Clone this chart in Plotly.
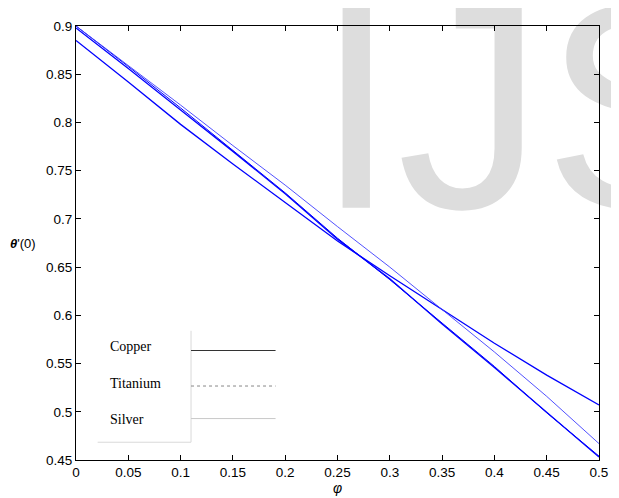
import plotly.graph_objects as go

# ---- data ----
phi = [0.0, 0.05, 0.10, 0.15, 0.20, 0.25, 0.30, 0.35, 0.40, 0.45, 0.50]
curve_a = [0.900, 0.859, 0.818, 0.776, 0.735, 0.692, 0.650, 0.606, 0.562, 0.516, 0.467]
curve_b = [0.898, 0.856, 0.813, 0.770, 0.726, 0.679, 0.638, 0.591, 0.546, 0.500, 0.453]
curve_b2 = [0.900, 0.858, 0.815, 0.771, 0.727, 0.680, 0.637, 0.592, 0.547, 0.499, 0.454]
curve_c = [0.885, 0.842, 0.798, 0.757, 0.717, 0.677, 0.641, 0.606, 0.571, 0.538, 0.507]
legend_labels = ["Copper", "Titanium", "Silver"]
x_ticks = [0, 0.05, 0.1, 0.15, 0.2, 0.25, 0.3, 0.35, 0.4, 0.45, 0.5]
y_ticks = [0.45, 0.5, 0.55, 0.6, 0.65, 0.7, 0.75, 0.8, 0.85, 0.9]

# page body has an 8px margin; size the figure so the plot lands where the reference has it
OFF = 8
W, H = 619 - OFF, 498 - OFF
PLOT_L, PLOT_T, PLOT_R, PLOT_B = 76, 20, 608, 460   # on-screen plot box
PW, PH = PLOT_R - PLOT_L, PLOT_B - PLOT_T
ML, MT = PLOT_L - OFF, PLOT_T - OFF
MR, MB = W - ML - PW, H - MT - PH


def px(xp):
    return (xp - PLOT_L) / PW


def py(yp):
    return (PLOT_B - yp) / PH


fig = go.Figure()
traces = [
    ("Copper", curve_b, "#0000ff", 1.3),
    ("Copper b", curve_b2, "#0000ff", 1.0),
    ("Silver", curve_c, "#0000ff", 1.3),
    ("Titanium", curve_a, "#3d3dff", 0.9),
]
for name, ys, col, w in traces:
    fig.add_trace(go.Scatter(x=phi, y=ys, mode="lines", name=name,
                             line=dict(color=col, width=w), showlegend=False))

font = dict(family="Liberation Sans, Arial, sans-serif", size=13.5, color="black")
axis_common = dict(showline=True, linecolor="black", linewidth=1, mirror="ticks",
                   ticks="inside", ticklen=5, tickcolor="black", showgrid=False,
                   zeroline=False, tickfont=font)
fig.update_xaxes(range=[0, 0.5], tickvals=x_ticks,
                 ticktext=[f"{v:g}" for v in x_ticks], **axis_common)
fig.update_yaxes(range=[0.45, 0.9], tickvals=y_ticks,
                 ticktext=[f"{v:g}" for v in y_ticks], **axis_common)

shapes = []
annotations = []

# watermark (below axes)
shapes.append(dict(type="rect", xref="paper", yref="paper", layer="below",
                   x0=px(535) - 0.2, x1=px(535) + 0.2,
                   y0=py(73) - 0.1, y1=py(73) + 0.1,
                   line=dict(width=0), fillcolor="rgba(0,0,0,0)",
                   label=dict(text="IJS", textposition="middle center",
                              font=dict(family="Liberation Sans, Arial, sans-serif",
                                        size=293, color="#dddddd"))))

# custom legend
shapes.append(dict(type="line", xref="paper", yref="paper", x0=px(193), x1=px(193),
                   y0=py(329), y1=py(442), line=dict(color="#d9d9d9", width=1)))
shapes.append(dict(type="line", xref="paper", yref="paper", x0=px(98), x1=px(193),
                   y0=py(442), y1=py(442), line=dict(color="#d9d9d9", width=1)))
leg_text_y = [345, 382, 419]
leg_line_y = [349, 385, 418]
leg_styles = [dict(color="#333333", width=1, dash="solid"),
              dict(color="#888888", width=1, dash="dot"),
              dict(color="#c8c8c8", width=1, dash="solid")]
for lab, ty, ly, st in zip(legend_labels, leg_text_y, leg_line_y, leg_styles):
    annotations.append(dict(text=lab, xref="paper", yref="paper", x=px(109), y=py(ty),
                            xanchor="left", yanchor="middle", showarrow=False,
                            font=dict(family="Liberation Serif, Times New Roman, serif",
                                      size=14, color="black")))
    shapes.append(dict(type="line", xref="paper", yref="paper", x0=px(193), x1=px(279),
                       y0=py(ly), y1=py(ly), line=st))

# axis titles
annotations.append(dict(text="<b><i>θ</i></b>'(0)", xref="paper", yref="paper",
                        x=px(22), y=py(241), xanchor="center", yanchor="middle",
                        showarrow=False, font=dict(family="Liberation Sans, Arial", size=13, color="black")))
annotations.append(dict(text="<i>φ</i>", xref="paper", yref="paper",
                        x=px(342), y=py(488), xanchor="center", yanchor="middle",
                        showarrow=False, font=dict(family="Liberation Sans, Arial", size=14, color="black")))

fig.update_layout(width=W, height=H, margin=dict(l=ML, r=MR, t=MT, b=MB),
                  paper_bgcolor="white", plot_bgcolor="rgba(0,0,0,0)",
                  shapes=shapes, annotations=annotations, showlegend=False)

fig.write_html("out.html")
